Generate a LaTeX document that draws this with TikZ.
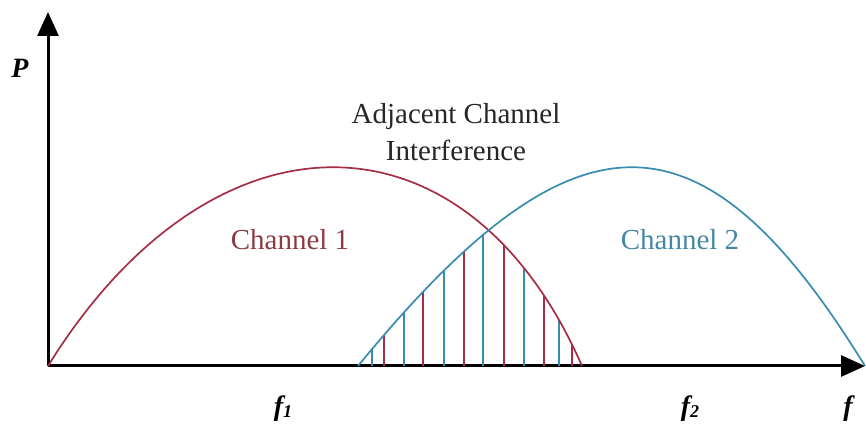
\documentclass[tikz,border=0pt]{standalone}
\usepackage{fontspec}
\setmainfont{Liberation Serif}
\usetikzlibrary{arrows.meta}

\definecolor{chred}{RGB}{165,45,70}
\definecolor{chblue}{RGB}{55,140,175}
\definecolor{chredtext}{RGB}{140,60,65}
\definecolor{chbluetext}{RGB}{70,135,165}

\tikzset{
  axisline/.style={line width=3pt, -{Triangle[length=24pt, width=21pt]}},
  curveline/.style={line width=1.7pt},
  hatch/.style={line width=1.6pt},
  lbl/.style={inner sep=0pt, font=\fontsize{29}{37}\selectfont}
}

\begin{document}
\begin{tikzpicture}[x=1pt, y=1pt]
\useasboundingbox (0,0) rectangle (866,425);

% Axes
\coordinate (O) at (48,59);
\coordinate (ytip) at (48,413);
\coordinate (xtip) at (865,59);
\draw[axisline] (O) -- (ytip);
\draw[axisline] (O) -- (xtip);

% Overlap hatching (inside both channels)
\begin{scope}
  \clip (48,59) .. controls (212,324) and (466,324) .. (582,59) -- cycle;
  \clip (358,59) .. controls (575,324) and (702,324) .. (865,59) -- cycle;
  \foreach \x/\c in {372/chblue, 384/chred, 404/chblue, 423/chred, 444/chblue, 464/chred,
                     483/chblue, 504/chred, 524/chblue, 544/chred, 559/chblue, 572/chred} {
    \draw[hatch, color=\c] (\x,59) -- (\x,380);
  }
\end{scope}

% Channel curves
\draw[curveline, color=chred] (O) .. controls (212,324) and (466,324) .. (582,59);
\draw[curveline, color=chblue] (358,59) .. controls (575,324) and (702,324) .. (xtip);

% Labels
\node[lbl, align=center, text=black!85] (aci) at (456,293) {Adjacent Channel\\Interference};
\node[lbl, text=chredtext] (chone) at (290,185) {Channel 1};
\node[lbl, text=chbluetext] (chtwo) at (680,185) {Channel 2};
\node[lbl, font=\fontsize{28}{28}\selectfont\bfseries\itshape] (plabel) at (20,357) {P};
\node[lbl, font=\fontsize{28}{28}\selectfont\bfseries\itshape] (flabel) at (848,16) {f};
\node[lbl, font=\fontsize{28}{28}\selectfont\bfseries\itshape] (fone) at (283,16) {f\raisebox{-2pt}{\fontsize{18}{18}\selectfont 1}};
\node[lbl, font=\fontsize{28}{28}\selectfont\bfseries\itshape] (ftwo) at (690,16) {f\raisebox{-2pt}{\fontsize{18}{18}\selectfont 2}};
\end{tikzpicture}
\end{document}
